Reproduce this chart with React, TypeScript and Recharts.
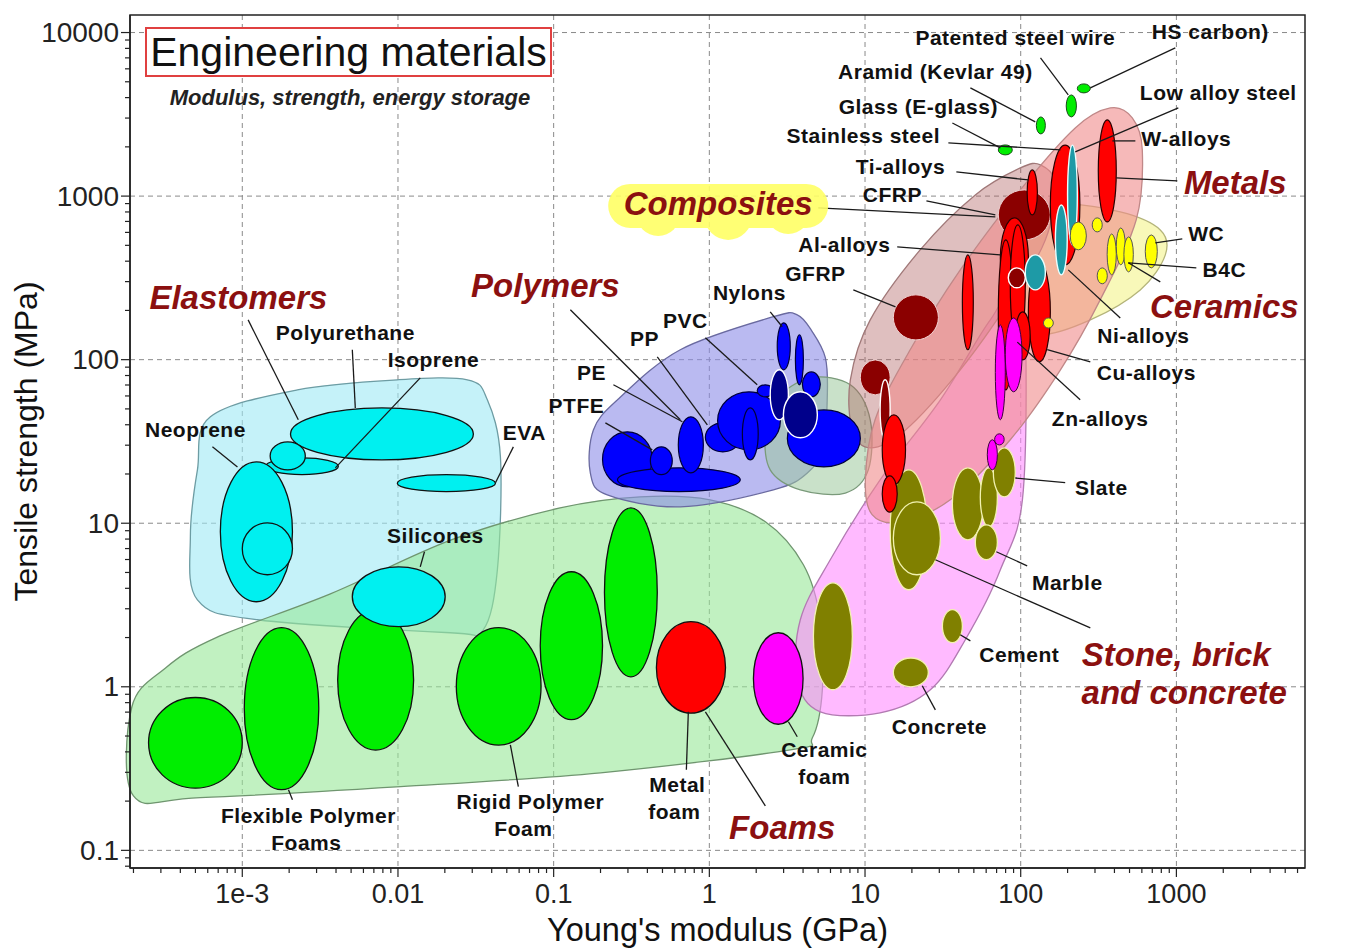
import React from "react";
import {
  ScatterChart,
  Scatter,
  XAxis,
  YAxis,
  CartesianGrid,
  ReferenceArea,
  ReferenceLine,
  Label,
} from "recharts";

// Young's modulus E (GPa) on x, tensile strength S (MPa) on y, both log
const E_DOMAIN: [number, number] = [1.9e-4, 6700];
const S_DOMAIN: [number, number] = [0.078, 12800];

const eMajor = [1e-3, 0.01, 0.1, 1, 10, 100, 1000];
const eMajorText = ["1e-3", "0.01", "0.1", "1", "10", "100", "1000"];
const sMajor = [0.1, 1, 10, 100, 1000, 10000];
const sMajorText = ["0.1", "1", "10", "100", "1000", "10000"];

type Box = [string, number, number, number, number]; // name, E lo, E hi, S lo, S hi
type Pt = [number, number]; // E, S

// material property bubbles
const foams: Box[] = [
  ["flexible 1", 2.5e-4, 1.0e-3, 0.24, 0.86],
  ["flexible 2", 1.03e-3, 3.1e-3, 0.235, 2.3],
  ["flexible 3", 4.1e-3, 0.0126, 0.41, 2.96],
  ["rigid 1", 0.0237, 0.083, 0.44, 2.3],
  ["rigid 2", 0.082, 0.206, 0.63, 5.05],
  ["rigid 3", 0.212, 0.463, 1.15, 12.4],
];
const metalFoams: Box[] = [["metal foam", 0.457, 1.27, 0.69, 2.5]];
const ceramicFoams: Box[] = [["ceramic foam", 1.92, 4.0, 0.59, 2.14]];

const elastomers: Box[] = [
  ["polyurethane", 2.04e-3, 0.0305, 24.4, 50.7],
  ["isoprene", 1.41e-3, 4.14e-3, 19.8, 25.1],
  ["butyl", 1.51e-3, 2.54e-3, 21.2, 31.4],
  ["eva", 9.9e-3, 0.0423, 15.6, 19.8],
  ["neoprene", 7.23e-4, 2.1e-3, 3.31, 23.7],
  ["neoprene soft", 1.0e-3, 2.1e-3, 4.84, 10.05],
  ["silicones", 5.09e-3, 0.0201, 2.33, 5.41],
];

const polymers: Box[] = [
  ["ptfe", 0.206, 0.43, 16.7, 36.2],
  ["ldpe", 0.257, 1.58, 15.6, 21.8],
  ["pe", 0.418, 0.578, 19.8, 29.3],
  ["pp", 0.632, 0.915, 20.3, 44.7],
  ["hdpe", 0.943, 1.58, 27.3, 41.1],
  ["pvc", 1.13, 2.86, 28.1, 63.6],
  ["ps", 1.63, 2.06, 24.4, 50.7],
  ["epoxy", 3.17, 9.33, 22.1, 49.3],
  ["abs", 2.03, 2.58, 59.3, 70.2],
  ["nylon 1", 2.73, 3.31, 86.7, 168],
  ["nylon 2", 3.57, 4.02, 70.2, 142],
  ["nylon 3", 3.96, 5.16, 59.3, 84.2],
];
const darkPolymers: Box[] = [
  ["pmma", 2.46, 3.22, 42.9, 86.7],
  ["pc", 2.99, 4.94, 33.3, 63.6],
];

const stones: Box[] = [
  ["stone 1", 14.5, 25.1, 3.92, 21.2],
  ["stone 2", 15.2, 30.5, 4.84, 13.5],
  ["granite", 36.4, 57.5, 7.92, 21.8],
  ["limestone", 55.0, 70.8, 9.5, 21.8],
  ["slate", 66.7, 92.3, 14.5, 28.9],
  ["marble", 51.1, 70.8, 5.98, 9.78],
  ["cement", 31.4, 42.2, 1.86, 2.96],
  ["concrete", 15.2, 25.5, 1.0, 1.5],
  ["brick", 4.66, 8.29, 0.959, 4.32],
];

const composites: Box[] = [
  ["cfrp", 71.8, 155, 540, 1091],
  ["gfrp", 15.2, 29.6, 132, 249],
  ["wood", 9.33, 14.5, 60.9, 99.7],
];
const compositesOutlined: Box[] = [["bamboo", 12.5, 14.5, 32.4, 75.3]];

const metals: Box[] = [
  ["w alloys", 315, 411, 695, 2924],
  ["low alloy steel", 155, 240, 380, 2050],
  ["ti alloys", 110, 128, 767, 1445],
  ["mg alloys", 42.2, 49.6, 115, 437],
  ["al alloys 1", 74.0, 112, 232, 736],
  ["al alloys 2", 71.8, 89.6, 65.4, 540],
  ["al alloys 3", 85.7, 107, 123, 667],
  ["cu alloys", 112, 155, 97.0, 396],
  ["zn red", 92.3, 115, 99.7, 196],
  ["lead 1", 12.9, 18.2, 17.2, 46.0],
  ["lead 2", 12.9, 16.1, 11.7, 19.5],
];
const tealMetals: Box[] = [
  ["ni alloys", 107, 144, 267, 437],
  ["stainless 1", 200, 231, 503, 2050],
  ["stainless 2", 167, 199, 330, 883],
];
const zincs: Box[] = [
  ["zn 1", 68.7, 79.6, 42.9, 163],
  ["zn 2", 79.6, 102, 63.6, 180],
  ["zn 3", 61.0, 70.8, 21.2, 32.4],
  ["zn 4", 68.0, 78.3, 30.1, 35.2],
];
const compositesTop: Box[] = [["cast iron", 83.2, 107, 275, 364]];
const ceramics: Box[] = [
  ["wc", 631, 754, 364, 579],
  ["b4c", 359, 411, 330, 587],
  ["sic", 411, 470, 380, 639],
  ["al2o3", 460, 529, 344, 563],
  ["si3n4", 310, 360, 291, 364],
  ["zro2", 208, 264, 469, 695],
  ["aln", 288, 334, 604, 736],
  ["glass ceramic", 140, 162, 156, 180],
];
const fibres: Box[] = [
  ["hs carbon", 231, 280, 4276, 4853],
  ["patented steel wire", 196, 228, 3048, 4155],
  ["aramid", 126, 144, 2400, 3048],
  ["e-glass", 71.8, 88.3, 1786, 2056],
];

// family envelopes (outline vertices)
const elastomerHull: Pt[] = [
  [6.24e-4, 44.7], [2.26e-3, 65.4], [9.9e-3, 75.3], [0.0279, 75.3], [0.0375, 56.8],
  [0.0455, 25.5], [0.0435, 5.19], [0.0353, 2.23], [0.0217, 2.14], [1.25e-3, 2.57],
  [5.15e-4, 3.4], [4.64e-4, 8.26], [5.15e-4, 21.2],
];
const foamHull: Pt[] = [
  [1.95e-4, 0.75], [3.2e-4, 1.3], [6.8e-4, 2.0], [3.68e-3, 3.7], [0.022, 7.9],
  [0.11, 12.4], [0.36, 14.5], [1.01, 13.9], [2.29, 10.2], [4.02, 5.57], [5.16, 2.57],
  [5.32, 0.959], [4.59, 0.488], [3.31, 0.412], [0.2, 0.298], [0.0104, 0.245],
  [5.38e-4, 0.21], [2.0e-4, 0.215],
];
const polymerHull: Pt[] = [
  [0.18, 37.2], [0.257, 56.8], [0.651, 115], [2.58, 183], [3.67, 188], [4.59, 148],
  [5.56, 103], [5.73, 62.7], [5.4, 29.3], [4.26, 20.3], [2.58, 16.0], [0.651, 12.6],
  [0.221, 14.9], [0.172, 20.3],
];
const blendHull: Pt[] = [
  [2.65, 56.8], [4.45, 77.4], [8.05, 70.2], [10.8, 42.9], [10.5, 21.2], [7.47, 15.3],
  [3.84, 16.0], [2.46, 21.2], [2.29, 37.2],
];
const ceramicHull: Pt[] = [
  [85.7, 667], [180, 883], [436, 800], [788, 621], [849, 437], [586, 267], [280, 175],
  [134, 142], [85.7, 175], [74.0, 307],
];
const stoneHull: Pt[] = [
  [102, 267], [104, 16.0], [74.0, 5.19], [44.1, 1.94], [26.3, 0.959], [12.5, 0.693],
  [5.16, 0.703], [3.67, 1.1], [3.84, 2.57], [5.98, 5.98], [12.5, 18.4], [30.5, 56.8],
  [63.8, 175],
];
const compositeHull: Pt[] = [
  [134, 1552], [167, 1171], [144, 540], [85.7, 232], [40.9, 86.7], [18.2, 37.2],
  [10.8, 28.9], [8.29, 37.2], [8.05, 75.3], [10.8, 175], [22.6, 469], [51.1, 1017],
  [99.4, 1486],
];
const metalHull: Pt[] = [
  [376, 3460], [521, 3006], [604, 1915], [552, 716], [324, 232], [180, 86.7],
  [85.7, 32.4], [35.3, 13.9], [16.9, 10.2], [11.1, 11.3], [10.05, 18.4], [11.6, 42.9],
  [19.5, 115], [40.9, 354], [99.4, 1091], [224, 2612],
];

// labels: [text, E, S] at the text centre
const materialTags: [string, number, number][] = [
  ["Patented steel wire", 92.3, 9270],
  ["HS carbon)", 1651, 10090],
  ["Aramid (Kevlar 49)", 28.3, 5741],
  ["Glass (E-glass)", 22.0, 3509],
  ["Stainless steel", 9.75, 2334],
  ["Low alloy steel", 1858, 4276],
  ["W-alloys", 1158, 2238],
  ["Ti-alloys", 16.9, 1508],
  ["CFRP", 15.0, 1017],
  ["Al-alloys", 7.36, 503],
  ["GFRP", 4.8, 334],
  ["WC", 1556, 587],
  ["B4C", 2031, 354],
  ["Ni-alloys", 613, 140],
  ["Cu-alloys", 641, 83.0],
  ["Zn-alloys", 324, 43.5],
  ["Slate", 329, 16.5],
  ["Marble", 199, 4.32],
  ["Cement", 97.9, 1.57],
  ["Concrete", 30.0, 0.569],
  ["Ceramic", 5.48, 0.412],
  ["foam", 5.48, 0.282],
  ["Metal", 0.623, 0.252],
  ["foam", 0.596, 0.172],
  ["Rigid Polymer", 0.0709, 0.198],
  ["Foam", 0.0639, 0.136],
  ["Flexible Polymer", 2.66e-3, 0.163],
  ["Foams", 2.58e-3, 0.111],
  ["Silicones", 0.0174, 8.38],
  ["EVA", 0.0649, 35.7],
  ["Neoprene", 5.0e-4, 37.2],
  ["Polyurethane", 4.59e-3, 146],
  ["Isoprene", 0.0169, 99.7],
  ["Nylons", 1.81, 256],
  ["PVC", 0.701, 173],
  ["PP", 0.383, 134],
  ["PE", 0.175, 83.0],
  ["PTFE", 0.14, 52.2],
];
const classTags: [string, number, number][] = [
  ["Elastomers", 9.44e-4, 239],
  ["Polymers", 0.0885, 283],
  ["Composites", 1.14, 896],
  ["Metals", 2388, 1205],
  ["Ceramics", 2031, 210],
  ["Stone, brick", 998, 1.57],
  ["and concrete", 1124, 0.919],
  ["Foams", 2.94, 0.137],
];

// leader lines: from label end to bubble end
const leaders: [Pt, Pt][] = [
  [[134, 6998], [202, 4155]],
  [[984, 8050], [280, 4585]],
  [[47.5, 4585], [124, 2843]],
  [[36.4, 2800], [74.0, 1971]],
  [[34.3, 2115], [180, 1915]],
  [[1029, 3460], [224, 1862]],
  [[545, 2175], [388, 2175]],
  [[38.6, 1406], [112, 1256]],
  [[411, 1292], [1014, 1239]],
  [[24.8, 935], [68.7, 767]],
  [[5.01, 847], [68.7, 746]],
  [[16.1, 489], [74.0, 437]],
  [[8.41, 267], [15.7, 210]],
  [[1091, 547], [732, 518]],
  [[1343, 364], [491, 391]],
  [[491, 391], [788, 299]],
  [[436, 180], [202, 354]],
  [[280, 97.0], [148, 115]],
  [[241, 56.8], [95.1, 128]],
  [[193, 17.7], [92.3, 18.9]],
  [[110, 5.49], [69.7, 6.69]],
  [[47.5, 1.91], [40.9, 2.08]],
  [[28.3, 0.723], [23.3, 1.014]],
  [[280, 2.29], [28.3, 5.98]],
  [[3.67, 0.495], [3.22, 0.611]],
  [[2.29, 0.187], [0.943, 0.703]],
  [[0.712, 0.311], [0.733, 0.703]],
  [[0.0593, 0.245], [0.0527, 0.442]],
  [[2.1e-3, 0.204], [1.98e-3, 0.235]],
  [[0.0148, 6.69], [0.0139, 5.41]],
  [[0.0551, 29.3], [0.0423, 17.7]],
  [[6.43e-4, 29.3], [9.31e-4, 22.1]],
  [[5.09e-3, 115], [5.32e-3, 50.7]],
  [[0.0139, 77.4], [3.96e-3, 21.8]],
  [[1.09e-3, 175], [2.29e-3, 42.9]],
  [[0.128, 202], [0.651, 42.9]],
  [[2.46, 196], [2.94, 159]],
  [[0.943, 136], [2.03, 70.2]],
  [[0.463, 104], [0.971, 39.9]],
  [[0.242, 70.2], [0.671, 41.7]],
  [[0.215, 41.1], [0.43, 28.1]],
];

const bubbleLook: Record<string, { fill: string; stroke: string; sw: number }> = {
  foam: { fill: "#00ee00", stroke: "#111", sw: 1.3 },
  metalFoam: { fill: "#ff0000", stroke: "#111", sw: 1.3 },
  ceramicFoam: { fill: "#ff00ff", stroke: "#111", sw: 1.3 },
  rubber: { fill: "#00f0f0", stroke: "#111", sw: 1.3 },
  polymer: { fill: "#0000ff", stroke: "#00003a", sw: 1.2 },
  navy: { fill: "#00008b", stroke: "#ffffff", sw: 1.4 },
  stone: { fill: "#808000", stroke: "#f2f2b0", sw: 1.3 },
  compo: { fill: "#8b0000", stroke: "#f0d0d0", sw: 1 },
  compoW: { fill: "#8b0000", stroke: "#ffffff", sw: 1.4 },
  metal: { fill: "#ff0000", stroke: "#2a0000", sw: 1.2 },
  teal: { fill: "#1e9aa6", stroke: "#eaffff", sw: 1.4 },
  zinc: { fill: "#ff00ff", stroke: "#400040", sw: 1 },
  ceramic: { fill: "#ffff00", stroke: "#555", sw: 1 },
  fibre: { fill: "#00ee00", stroke: "#1a4a1a", sw: 1 },
};

const bubbleLayers: [Box[], string][] = [
  [foams, "foam"],
  [metalFoams, "metalFoam"],
  [ceramicFoams, "ceramicFoam"],
  [elastomers, "rubber"],
  [polymers, "polymer"],
  [darkPolymers, "navy"],
  [stones, "stone"],
  [composites, "compo"],
  [compositesOutlined, "compoW"],
  [metals, "metal"],
  [tealMetals, "teal"],
  [zincs, "zinc"],
  [compositesTop, "compoW"],
  [ceramics, "ceramic"],
  [fibres, "fibre"],
];

const hullLayers: [Pt[], string, number, string][] = [
  [elastomerHull, "#9eeaf5", 0.6, "#6d9ca3"],
  [foamHull, "#98e898", 0.6, "#6f956f"],
  [polymerHull, "#8c8ce8", 0.6, "#6a6aa0"],
  [blendHull, "#9cc89c", 0.55, "#7a9a7a"],
  [ceramicHull, "#f4f48a", 0.6, "#b4b47a"],
  [stoneHull, "#ff8cff", 0.6, "#b27ab2"],
  [compositeHull, "#b06060", 0.4, "#a07878"],
  [metalHull, "#f08a8a", 0.6, "#c08888"],
];

const eTicks: number[] = [];
for (let k = -4; k <= 3; k++)
  for (let m = 1; m <= 9; m++) {
    const v = m * Math.pow(10, k);
    if (v >= E_DOMAIN[0] && v <= E_DOMAIN[1]) eTicks.push(v);
  }
const sTicks: number[] = [];
for (let k = -2; k <= 4; k++)
  for (let m = 1; m <= 9; m++) {
    const v = m * Math.pow(10, k);
    if (v >= S_DOMAIN[0] && v <= S_DOMAIN[1]) sTicks.push(v);
  }

const majorIndex = (list: number[], v: number) =>
  list.findIndex((m) => Math.abs(Math.log10(m) - Math.log10(v)) < 1e-6);

const TICK_FONT = "'Liberation Sans Narrow', 'Arial Narrow', 'Liberation Sans', Arial, sans-serif";
const TEXT_FONT = "'Liberation Sans', Arial, sans-serif";

const XTick = (p: any) => {
  const i = majorIndex(eMajor, p.payload.value);
  return (
    <g>
      <line x1={p.x} x2={p.x} y1={p.y} y2={p.y + (i >= 0 ? 9 : 5)} stroke="#222" strokeWidth={1.2} />
      {i >= 0 && (
        <text x={p.x} y={p.y + 26} textAnchor="middle" dominantBaseline="central" fontFamily={TICK_FONT} fontSize={27} fill="#222">
          {eMajorText[i]}
        </text>
      )}
    </g>
  );
};

const YTick = (p: any) => {
  const i = majorIndex(sMajor, p.payload.value);
  return (
    <g>
      <line x1={p.x} x2={p.x - (i >= 0 ? 9 : 5)} y1={p.y} y2={p.y} stroke="#222" strokeWidth={1.2} />
      {i >= 0 && (
        <text x={p.x - 11} y={p.y} textAnchor="end" dominantBaseline="central" fontFamily={TICK_FONT} fontSize={28} fill="#222">
          {sMajorText[i]}
        </text>
      )}
    </g>
  );
};

const XTitle = (p: any) => {
  const vb = p.viewBox;
  return (
    <text x={vb.x + vb.width / 2} y={vb.y + 62} textAnchor="middle" dominantBaseline="central" fontFamily={TICK_FONT} fontSize={32.5} fill="#111">
      Young's modulus (GPa)
    </text>
  );
};

const YTitle = (p: any) => {
  const vb = p.viewBox;
  const cx = vb.x + 18;
  const cy = vb.y + vb.height / 2;
  return (
    <text x={cx} y={cy} transform={`rotate(-90 ${cx} ${cy})`} textAnchor="middle" dominantBaseline="central" fontFamily={TEXT_FONT} fontSize={32} fill="#111">
      Tensile strength (MPa)
    </text>
  );
};

const bubbleShape = (key: string) => (p: any) => {
  const st = bubbleLook[key];
  return (
    <ellipse
      cx={p.x + p.width / 2}
      cy={p.y + p.height / 2}
      rx={Math.abs(p.width) / 2}
      ry={Math.abs(p.height) / 2}
      fill={st.fill}
      stroke={st.stroke}
      strokeWidth={st.sw}
    />
  );
};

// closed Catmull-Rom curve through the vertices
const smoothPath = (xy: number[][]) => {
  const n = xy.length;
  let d = `M${xy[0][0]},${xy[0][1]}`;
  for (let i = 0; i < n; i++) {
    const p0 = xy[(i - 1 + n) % n], p1 = xy[i], p2 = xy[(i + 1) % n], p3 = xy[(i + 2) % n];
    const c1 = [p1[0] + (p2[0] - p0[0]) / 6, p1[1] + (p2[1] - p0[1]) / 6];
    const c2 = [p2[0] - (p3[0] - p1[0]) / 6, p2[1] - (p3[1] - p1[1]) / 6];
    d += ` C${c1[0]},${c1[1]} ${c2[0]},${c2[1]} ${p2[0]},${p2[1]}`;
  }
  return d + "Z";
};

const hullBounds = (pts: Pt[]) => {
  const es = pts.map((q) => q[0]);
  const ss = pts.map((q) => q[1]);
  return { e0: Math.min(...es), e1: Math.max(...es), s0: Math.min(...ss), s1: Math.max(...ss) };
};

// the reference area gives the pixel box of the hull's bounds; log axes are linear in log space
const hullShape = (pts: Pt[], fill: string, op: number, stroke: string) => (p: any) => {
  const b = hullBounds(pts);
  const le0 = Math.log10(b.e0), le1 = Math.log10(b.e1);
  const ls0 = Math.log10(b.s0), ls1 = Math.log10(b.s1);
  const xy = pts.map((q) => [
    p.x + (p.width * (Math.log10(q[0]) - le0)) / (le1 - le0),
    p.y + (p.height * (ls1 - Math.log10(q[1]))) / (ls1 - ls0),
  ]);
  return <path d={smoothPath(xy)} fill={fill} fillOpacity={op} stroke={stroke} strokeWidth={1.3} />;
};

const MaterialTag = (p: any) => {
  const t = p.payload?.text ?? p.text;
  return (
    <text x={p.cx} y={p.cy} textAnchor="middle" dominantBaseline="central" fontFamily={TEXT_FONT} fontWeight="bold" fontSize={21} letterSpacing={0.5} fill="#111">
      {t}
    </text>
  );
};

const ClassTag = (p: any) => {
  const t = p.payload?.text ?? p.text;
  const blob = t === "Composites";
  return (
    <g>
      {blob && (
        <g fill="#ffff66" opacity={0.9}>
          <rect x={p.cx - 110} y={p.cy - 20} width={220} height={44} rx={22} />
          <circle cx={p.cx - 60} cy={p.cy + 10} r={22} />
          <circle cx={p.cx + 10} cy={p.cy + 12} r={24} />
          <circle cx={p.cx + 70} cy={p.cy + 8} r={22} />
        </g>
      )}
      <text x={p.cx} y={p.cy} textAnchor="middle" dominantBaseline="central" fontFamily={TEXT_FONT} fontWeight="bold" fontStyle="italic" fontSize={33} fill="#8b1010">
        {t}
      </text>
    </g>
  );
};

const materialRows = materialTags.map(([text, x, y]) => ({ text, x, y }));
const classRows = classTags.map(([text, x, y]) => ({ text, x, y }));

export default function App() {
  return (
    <div style={{ position: "relative", width: 1340, height: 942 }}>
      <ScatterChart width={1340} height={942} margin={{ top: 7, right: 43, bottom: 10, left: 0 }}>
        <CartesianGrid verticalValues={eMajor} horizontalValues={sMajor} stroke="#8a8a8a" strokeDasharray="5 4" />
        <XAxis
          dataKey="x"
          type="number"
          scale="log"
          domain={E_DOMAIN}
          allowDataOverflow
          ticks={eTicks}
          interval={0}
          tickSize={0}
          tickMargin={0}
          tickLine={false}
          tick={(p: any) => <XTick {...p} />}
          height={72}
          axisLine={{ stroke: "#222", strokeWidth: 1.5 }}
        >
          <Label content={XTitle} />
        </XAxis>
        <YAxis
          dataKey="y"
          type="number"
          scale="log"
          domain={S_DOMAIN}
          allowDataOverflow
          ticks={sTicks}
          interval={0}
          tickSize={0}
          tickMargin={0}
          tickLine={false}
          tick={(p: any) => <YTick {...p} />}
          width={122}
          axisLine={{ stroke: "#222", strokeWidth: 1.5 }}
        >
          <Label content={YTitle} />
        </YAxis>

        {hullLayers.map(([pts, fill, op, stroke], i) => {
          const b = hullBounds(pts);
          return (
            <ReferenceArea
              key={`hull-${i}`}
              x1={b.e0}
              x2={b.e1}
              y1={b.s0}
              y2={b.s1}
              ifOverflow="hidden"
              shape={hullShape(pts, fill, op, stroke)}
            />
          );
        })}

        {bubbleLayers.flatMap(([boxes, key]) =>
          boxes.map(([name, e0, e1, s0, s1]) => (
            <ReferenceArea
              key={`${key}-${name}`}
              x1={e0}
              x2={e1}
              y1={s0}
              y2={s1}
              ifOverflow="hidden"
              shape={bubbleShape(key)}
            />
          ))
        )}

        <ReferenceArea
          x1={E_DOMAIN[0]}
          x2={E_DOMAIN[1]}
          y1={S_DOMAIN[0]}
          y2={S_DOMAIN[1]}
          ifOverflow="visible"
          fill="none"
          fillOpacity={0}
          stroke="#222"
          strokeWidth={1.5}
        />

        {leaders.map(([a, b], i) => (
          <ReferenceLine
            key={`lead-${i}`}
            segment={[{ x: a[0], y: a[1] }, { x: b[0], y: b[1] }]}
            ifOverflow="visible"
            stroke="#1a1a1a"
            strokeWidth={1.3}
          />
        ))}

        <Scatter data={materialRows} shape={(p: any) => <MaterialTag {...p} />} isAnimationActive={false} />
        <Scatter data={classRows} shape={(p: any) => <ClassTag {...p} />} isAnimationActive={false} />
      </ScatterChart>

      <div
        style={{
          position: "absolute",
          left: 137,
          top: 19,
          width: 403,
          height: 46,
          border: "2px solid #e04040",
          background: "#fff",
          fontFamily: TEXT_FONT,
          fontSize: 41,
          lineHeight: "46px",
          textAlign: "center",
          color: "#111",
        }}
      >
        Engineering materials
      </div>
      <div
        style={{
          position: "absolute",
          left: 142,
          top: 77,
          width: 400,
          textAlign: "center",
          fontFamily: TEXT_FONT,
          fontSize: 22,
          fontWeight: "bold",
          fontStyle: "italic",
          color: "#222",
        }}
      >
        Modulus, strength, energy storage
      </div>
    </div>
  );
}
